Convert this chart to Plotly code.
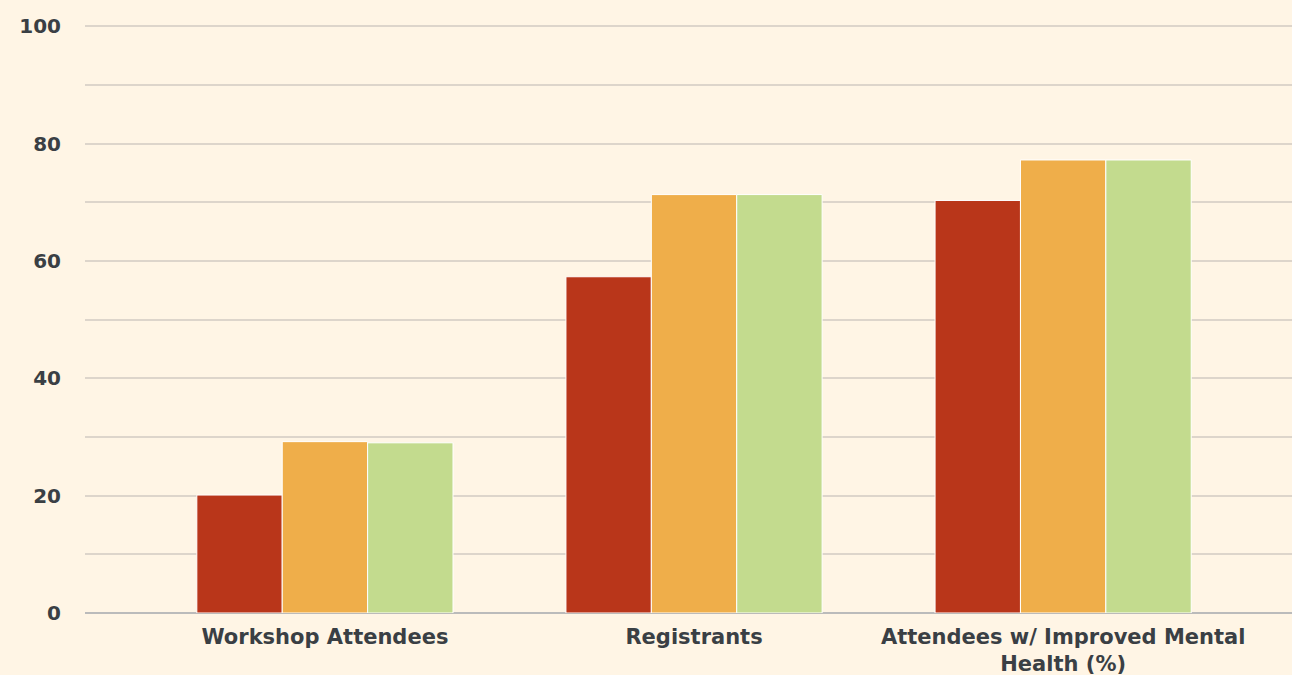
import plotly.graph_objects as go

categories = ["Workshop Attendees", "Registrants", "Attendees w/ Improved Mental<br>Health (%)"]
series_names = ["Series 1", "Series 2", "Series 3"]
series_1 = [20.1, 57.3, 70.3]
series_2 = [29.2, 71.3, 77.2]
series_3 = [29.0, 71.3, 77.2]
colors = ["#B9361A", "#EFAE4A", "#C3DB8E"]
y_ticks = [0, 20, 40, 60, 80, 100]

fig = go.Figure()
for name, vals, col in zip(series_names, [series_1, series_2, series_3], colors):
    fig.add_trace(go.Bar(x=categories, y=vals, name=name,
                         marker=dict(color=col, line=dict(color="#FFFFFF", width=1))))

bg = "#FFF5E5"
txt = "#3A3F44"
fig.update_layout(
    width=1292, height=675,
    paper_bgcolor=bg, plot_bgcolor=bg,
    barmode="group", bargap=0.306, bargroupgap=0,
    showlegend=False,
    margin=dict(l=85, r=0, t=25, b=62),
    font=dict(family="DejaVu Sans", color=txt),
    xaxis=dict(range=[-0.65, 2.62], showgrid=False, showline=False, zeroline=False,
               ticklabelstandoff=9,
               tickfont=dict(size=21, family="DejaVu Sans", color=txt, weight="bold"), ticks=""),
    yaxis=dict(range=[0, 100.2], tickvals=y_ticks, showgrid=True, gridcolor="#DDD5CB", gridwidth=1.5,
               minor=dict(dtick=10, showgrid=True, gridcolor="#DDD5CB", gridwidth=1.5),
               zeroline=True, zerolinecolor="#BBBBBB", zerolinewidth=2,
               showline=False, ticks="", ticklabelstandoff=23,
               tickfont=dict(size=20, family="DejaVu Sans", color=txt, weight="bold")),
)
fig.write_html("out.html", config={"displayModeBar": False},
               post_script="document.body.style.margin='0';document.body.style.background='#FFF5E5';")
